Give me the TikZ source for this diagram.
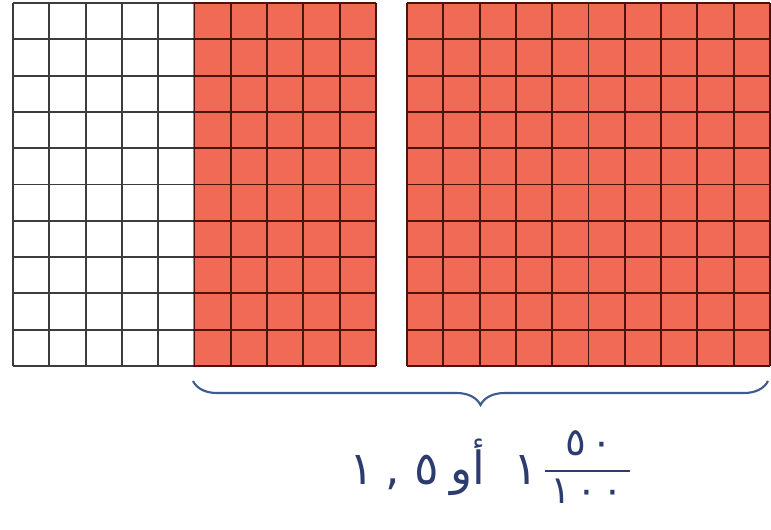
\documentclass[tikz,border=0pt]{standalone}
\usepackage{fontspec}
\usetikzlibrary{decorations.pathreplacing}
\TeXXeTstate=1
\newfontfamily\arabicfont[Script=Arabic]{DejaVu Sans}
\newfontfamily\digitfont{DejaVu Sans}
\definecolor{cellred}{RGB}{240,106,86}
\definecolor{redline}{RGB}{75,20,10}
\definecolor{whiteline}{RGB}{60,60,60}
\definecolor{bracecol}{RGB}{60,90,140}
\definecolor{textcol}{RGB}{45,60,110}
\tikzset{
 num/.style={anchor=base, text=textcol, inner sep=0pt, font=\digitfont\fontsize{26}{30}\selectfont},
 fracnum/.style={anchor=base, text=textcol, inner sep=0pt, font=\digitfont\fontsize{22}{26}\selectfont},
 arab/.style={anchor=base, text=textcol, inner sep=0pt, font=\arabicfont\fontsize{26}{30}\selectfont},
 gridline/.style={line width=1.1pt},
}

\begin{document}
\begin{tikzpicture}[x=0.02cm,y=-0.02cm]
\useasboundingbox (0,0) rectangle (771,529);

% the red cells
\fill[cellred] (193,3) rectangle (376,366);
\fill[cellred] (407,3) rectangle (770,366);

% left square
\foreach \i in {0,...,10}{
\draw[gridline,whiteline] (13,{3+36.3*\i}) -- (193,{3+36.3*\i});
\draw[gridline,redline] (193,{3+36.3*\i}) -- (376,{3+36.3*\i});
}
\foreach \i in {0,...,4}{
\draw[gridline,whiteline] ({13+36.3*\i},3) -- ({13+36.3*\i},366);
}
\foreach \i in {5,...,10}{
\draw[gridline,redline] ({13+36.3*\i},3) -- ({13+36.3*\i},366);
}

% right square
\foreach \i in {0,...,10}{
\draw[gridline,redline] (407,{3+36.3*\i}) -- (770,{3+36.3*\i});
\draw[gridline,redline] ({407+36.3*\i},3) -- ({407+36.3*\i},366);
}

\coordinate (bl) at (193,381);
\coordinate (br) at (768,381);
\draw[bracecol, line width=1.2pt, decorate, decoration={brace, mirror, amplitude=0.48cm}] (bl) -- (br);

\node[num] (whole) at (362,484) {١};
\node[num] (comma) at (393,484) {,};
\node[num] (five) at (427,484) {٥};
\node[arab] (or) at (468,484) {\beginR أو\endR};
\node[num] (mixed) at (526,484) {١};

\coordinate (barl) at (545,471);
\coordinate (barr) at (630,471);
\draw[textcol, line width=1.3pt] (barl) -- (barr);
\node[fracnum] (numer) at (589,455) {٥\kern3pt٠};
\node[fracnum] (denom) at (587,503) {١\kern3pt٠\kern3pt٠};
\end{tikzpicture}
\end{document}
